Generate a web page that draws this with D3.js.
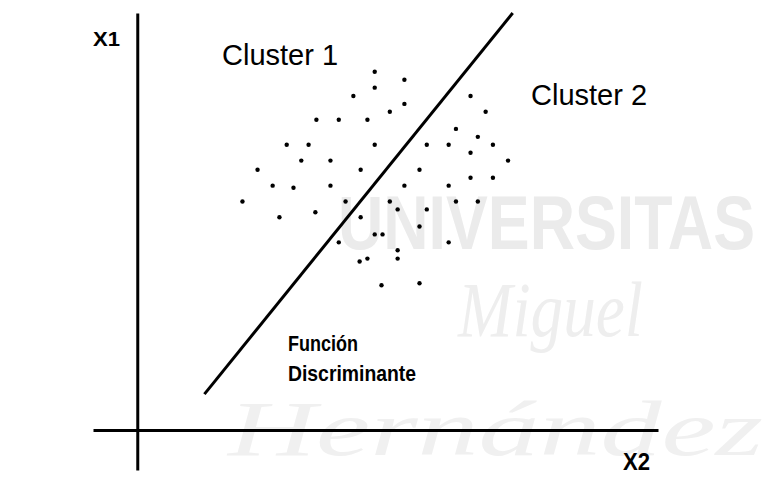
<!DOCTYPE html>
<html>
<head>
<meta charset="utf-8">
<script src="https://cdn.jsdelivr.net/npm/d3@7"></script>
<style>
  body { margin: 0; background: #fff; }
  svg { display: block; }
  .lbl { font-family: 'Liberation Sans', Arial, sans-serif; font-weight: bold; fill: #000; }
  .cl { font-family: 'Liberation Sans', Arial, sans-serif; fill: #000; }
  .wm { fill: #eeeeee; }
</style>
</head>
<body>
<svg id="chart" width="782" height="481"></svg>
<script>
// abstract units, origin of the axes at (0,0)
const dotX = [45.6, 45.6, 41.5, 51.3, 51.3, 64.0, 48.5, 66.9, 34.4, 38.7,
              44.2, 61.2, 65.4, 28.7, 32.9, 45.6, 55.6, 59.8, 68.3, 31.5,
              37.1, 64.0, 71.2, 23.1, 42.9, 54.2, 64.0, 68.3, 26.0, 30.0,
              37.1, 51.3, 59.8, 20.2, 40.0, 48.5, 61.2, 65.4, 27.3, 34.2,
              42.9, 50.0, 55.6, 54.2, 45.6, 47.1, 38.7, 59.8, 50.0, 50.0,
              44.2, 42.7, 46.9, 54.2];
const dotY = [85.9, 82.1, 80.1, 84.0, 78.2, 80.1, 76.3, 76.3, 74.4, 74.4,
              74.4, 72.2, 70.3, 68.4, 68.4, 68.4, 68.4, 68.4, 68.4, 64.6,
              64.6, 66.5, 64.6, 62.4, 62.4, 62.4, 60.5, 60.5, 58.6, 58.1,
              58.6, 58.6, 58.6, 54.8, 54.8, 54.8, 54.8, 54.8, 51.0, 52.2,
              51.0, 52.9, 52.9, 48.8, 46.9, 46.9, 45.0, 45.0, 43.1, 41.1,
              41.1, 40.4, 34.7, 35.2];

// discriminant line ends
const lineX = [12.9, 72.1];
const lineY = [8.6, 100];

const xDomain = [-8.5, 100];
const yDomain = [-9.6, 100];

const svg = d3.select('#chart');

const x = d3.scaleLinear().domain(xDomain).range([93, 658]);
const y = d3.scaleLinear().domain(yDomain).range([470, 13]);

// watermark
const wm = svg.append('g');
wm.append('text').attr('class', 'wm')
    .attr('transform', 'translate(338, 249) scale(0.98, 1.2)')
    .style('font', 'bold 64px "Liberation Sans", sans-serif')
    .style('fill', '#ebebeb')
    .text('UNIVERSITAS');
wm.append('text').attr('class', 'wm')
    .attr('x', 458).attr('y', 336)
    .attr('textLength', 185).attr('lengthAdjust', 'spacingAndGlyphs')
    .style('font', 'italic 78px "Liberation Serif", serif')
    .text('Miguel');
wm.append('text').attr('class', 'wm')
    .attr('x', 228).attr('y', 455)
    .attr('textLength', 535).attr('lengthAdjust', 'spacingAndGlyphs')
    .style('font', 'italic 78px "Liberation Serif", serif')
    .style('fill', '#f0f0f0')
    .text('Hernández');

// axes
svg.append('g')
    .attr('transform', `translate(0, ${y(0)})`)
    .call(d3.axisBottom(x).tickValues([]).tickSizeOuter(0))
    .select('.domain').attr('stroke', '#000').attr('stroke-width', 3);

svg.append('g')
    .attr('transform', `translate(${x(0)}, 0)`)
    .call(d3.axisLeft(y).tickValues([]).tickSizeOuter(0))
    .select('.domain').attr('stroke', '#000').attr('stroke-width', 3);

// dots
svg.append('g')
    .selectAll('circle')
    .data(dotX)
    .enter()
    .append('circle')
    .attr('cx', (d) => x(d))
    .attr('cy', (d, i) => y(dotY[i]))
    .attr('r', 2.2)
    .attr('fill', '#000');

// discriminant function
svg.append('line')
    .attr('x1', x(lineX[0])).attr('y1', y(lineY[0]))
    .attr('x2', x(lineX[1])).attr('y2', y(lineY[1]))
    .attr('stroke', '#000')
    .attr('stroke-width', 3);

// labels (condensed bold, squeezed with textLength)
svg.append('text').attr('class', 'lbl')
    .attr('x', 93).attr('y', 46)
    .attr('textLength', 27).attr('lengthAdjust', 'spacingAndGlyphs')
    .style('font-size', '21px')
    .text('X1');

svg.append('text').attr('class', 'lbl')
    .attr('x', 623).attr('y', 470)
    .attr('textLength', 27).attr('lengthAdjust', 'spacingAndGlyphs')
    .style('font-size', '24px')
    .text('X2');

svg.append('text').attr('class', 'cl')
    .attr('x', 222).attr('y', 65)
    .style('font-size', '29px')
    .text('Cluster 1');

svg.append('text').attr('class', 'cl')
    .attr('x', 531).attr('y', 105)
    .style('font-size', '29px')
    .text('Cluster 2');

svg.append('text').attr('class', 'lbl')
    .attr('x', 288).attr('y', 351)
    .attr('textLength', 70).attr('lengthAdjust', 'spacingAndGlyphs')
    .style('font-size', '22px')
    .text('Función');

svg.append('text').attr('class', 'lbl')
    .attr('x', 288).attr('y', 381)
    .attr('textLength', 128).attr('lengthAdjust', 'spacingAndGlyphs')
    .style('font-size', '22px')
    .text('Discriminante');
</script>
</body>
</html>
